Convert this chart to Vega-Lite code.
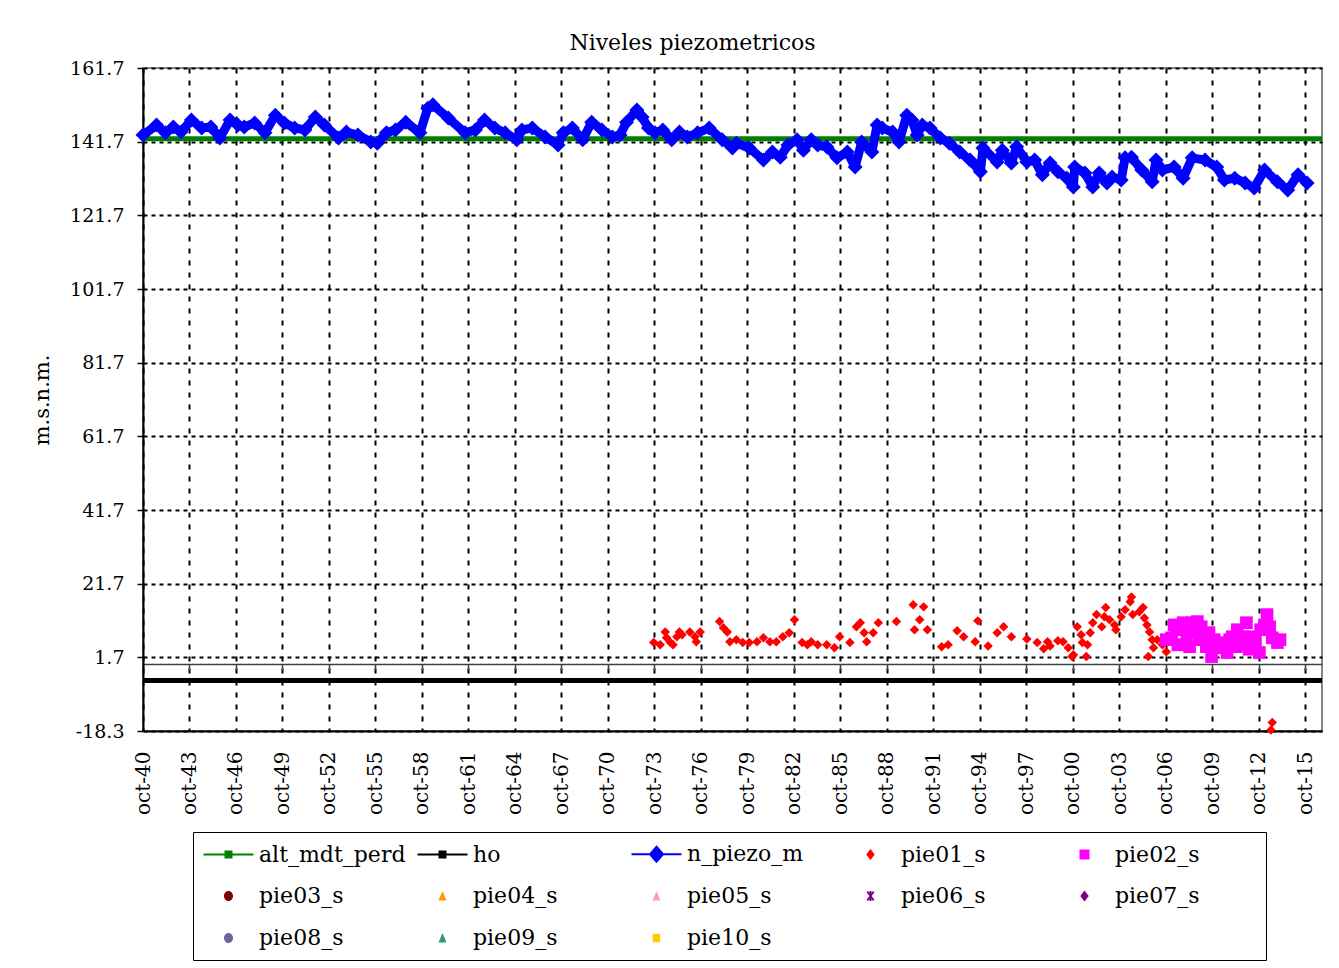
{
  "$schema": "https://vega.github.io/schema/vega-lite/v6.json",
  "width": 1179,
  "height": 663,
  "autosize": {"type": "none"},
  "padding": {"left": 143, "top": 68, "right": 17, "bottom": 237},
  "background": "white",
  "title": {"text": "Niveles piezometricos", "font": "DejaVu Serif", "fontSize": 22, "fontWeight": "normal", "color": "black", "offset": 4, "dx": -40},
  "config": {
    "view": {"stroke": "#606060", "strokeWidth": 1.5},
    "axis": {"labelFont": "DejaVu Serif", "labelFontSize": 19, "labelColor": "black", "titleFont": "DejaVu Serif", "titleFontSize": 21, "titleFontWeight": "normal", "titleColor": "black", "gridColor": "black", "gridWidth": 2, "gridOpacity": 1}
  },
  "data": {"values": [
    {"s":"alt_mdt_perd","d":"1940-10-01","v":142.5},{"s":"alt_mdt_perd","d":"2016-10-31","v":142.5},
    {"s":"ho","d":"1940-10-01","v":-4.6},{"s":"ho","d":"2016-10-31","v":-4.6},
    {"s":"n_piezo_m","d":"1940-10-01","v":143.5},{"s":"n_piezo_m","d":"1941-08-15","v":146.2},{"s":"n_piezo_m","d":"1942-03-15","v":144.1},{"s":"n_piezo_m","d":"1942-09-15","v":145.7},{"s":"n_piezo_m","d":"1943-03-15","v":144.3},{"s":"n_piezo_m","d":"1943-11-15","v":147.6},{"s":"n_piezo_m","d":"1944-07-15","v":145.4},{"s":"n_piezo_m","d":"1945-02-15","v":145.7},{"s":"n_piezo_m","d":"1945-09-15","v":142.7},{"s":"n_piezo_m","d":"1946-05-15","v":147.6},{"s":"n_piezo_m","d":"1946-11-15","v":146.2},{"s":"n_piezo_m","d":"1947-04-15","v":145.7},{"s":"n_piezo_m","d":"1947-12-15","v":146.8},{"s":"n_piezo_m","d":"1948-08-15","v":144.1},{"s":"n_piezo_m","d":"1949-04-15","v":148.9},{"s":"n_piezo_m","d":"1949-11-15","v":146.8},{"s":"n_piezo_m","d":"1950-07-15","v":145.4},{"s":"n_piezo_m","d":"1951-03-15","v":144.9},{"s":"n_piezo_m","d":"1951-11-15","v":148.4},{"s":"n_piezo_m","d":"1952-06-15","v":146.2},{"s":"n_piezo_m","d":"1953-05-15","v":142.7},{"s":"n_piezo_m","d":"1953-11-15","v":144.3},{"s":"n_piezo_m","d":"1954-08-15","v":143.5},{"s":"n_piezo_m","d":"1955-06-15","v":141.6},{"s":"n_piezo_m","d":"1955-11-15","v":141.3},{"s":"n_piezo_m","d":"1956-06-15","v":144.1},{"s":"n_piezo_m","d":"1957-01-15","v":144.9},{"s":"n_piezo_m","d":"1957-09-15","v":147.0},{"s":"n_piezo_m","d":"1958-08-15","v":144.1},{"s":"n_piezo_m","d":"1959-02-15","v":150.8},{"s":"n_piezo_m","d":"1959-06-15","v":151.7},{"s":"n_piezo_m","d":"1960-06-15","v":148.1},{"s":"n_piezo_m","d":"1961-07-15","v":144.1},{"s":"n_piezo_m","d":"1962-03-15","v":144.9},{"s":"n_piezo_m","d":"1962-10-15","v":147.6},{"s":"n_piezo_m","d":"1963-06-15","v":145.4},{"s":"n_piezo_m","d":"1964-02-15","v":144.1},{"s":"n_piezo_m","d":"1964-11-15","v":142.2},{"s":"n_piezo_m","d":"1965-03-15","v":144.9},{"s":"n_piezo_m","d":"1965-11-15","v":145.4},{"s":"n_piezo_m","d":"1966-09-15","v":143.0},{"s":"n_piezo_m","d":"1967-07-15","v":140.8},{"s":"n_piezo_m","d":"1967-11-15","v":144.1},{"s":"n_piezo_m","d":"1968-06-15","v":145.4},{"s":"n_piezo_m","d":"1969-02-15","v":142.2},{"s":"n_piezo_m","d":"1969-09-15","v":147.0},{"s":"n_piezo_m","d":"1970-05-15","v":144.9},{"s":"n_piezo_m","d":"1971-01-15","v":143.0},{"s":"n_piezo_m","d":"1971-07-15","v":143.5},{"s":"n_piezo_m","d":"1971-12-15","v":147.0},{"s":"n_piezo_m","d":"1972-08-15","v":150.3},{"s":"n_piezo_m","d":"1972-12-15","v":148.4},{"s":"n_piezo_m","d":"1973-05-15","v":145.4},{"s":"n_piezo_m","d":"1973-10-15","v":144.1},{"s":"n_piezo_m","d":"1974-04-15","v":144.9},{"s":"n_piezo_m","d":"1974-11-15","v":142.2},{"s":"n_piezo_m","d":"1975-05-15","v":144.3},{"s":"n_piezo_m","d":"1975-11-15","v":143.0},{"s":"n_piezo_m","d":"1976-07-15","v":144.1},{"s":"n_piezo_m","d":"1977-04-15","v":145.4},{"s":"n_piezo_m","d":"1978-02-15","v":142.2},{"s":"n_piezo_m","d":"1978-10-15","v":140.0},{"s":"n_piezo_m","d":"1979-01-15","v":141.3},{"s":"n_piezo_m","d":"1979-11-15","v":140.0},{"s":"n_piezo_m","d":"1980-10-15","v":136.7},{"s":"n_piezo_m","d":"1981-05-15","v":138.9},{"s":"n_piezo_m","d":"1981-11-15","v":137.5},{"s":"n_piezo_m","d":"1982-05-15","v":140.8},{"s":"n_piezo_m","d":"1982-12-15","v":142.2},{"s":"n_piezo_m","d":"1983-05-15","v":139.4},{"s":"n_piezo_m","d":"1983-11-15","v":142.2},{"s":"n_piezo_m","d":"1984-04-15","v":140.8},{"s":"n_piezo_m","d":"1984-11-15","v":140.3},{"s":"n_piezo_m","d":"1985-07-15","v":137.3},{"s":"n_piezo_m","d":"1986-03-15","v":138.9},{"s":"n_piezo_m","d":"1986-09-15","v":134.8},{"s":"n_piezo_m","d":"1987-02-15","v":141.6},{"s":"n_piezo_m","d":"1987-10-15","v":138.9},{"s":"n_piezo_m","d":"1988-02-15","v":146.2},{"s":"n_piezo_m","d":"1988-06-15","v":145.4},{"s":"n_piezo_m","d":"1989-02-15","v":144.3},{"s":"n_piezo_m","d":"1989-07-15","v":141.6},{"s":"n_piezo_m","d":"1990-01-15","v":148.9},{"s":"n_piezo_m","d":"1990-05-15","v":147.6},{"s":"n_piezo_m","d":"1990-09-15","v":143.5},{"s":"n_piezo_m","d":"1991-01-15","v":146.2},{"s":"n_piezo_m","d":"1991-07-15","v":145.4},{"s":"n_piezo_m","d":"1992-03-15","v":142.7},{"s":"n_piezo_m","d":"1992-10-15","v":141.3},{"s":"n_piezo_m","d":"1993-06-15","v":138.9},{"s":"n_piezo_m","d":"1994-02-15","v":136.7},{"s":"n_piezo_m","d":"1994-10-15","v":133.5},{"s":"n_piezo_m","d":"1994-12-15","v":140.0},{"s":"n_piezo_m","d":"1995-11-15","v":136.2},{"s":"n_piezo_m","d":"1996-03-15","v":139.4},{"s":"n_piezo_m","d":"1996-10-15","v":135.9},{"s":"n_piezo_m","d":"1997-02-15","v":140.3},{"s":"n_piezo_m","d":"1997-10-15","v":136.2},{"s":"n_piezo_m","d":"1998-04-15","v":136.7},{"s":"n_piezo_m","d":"1998-10-15","v":132.7},{"s":"n_piezo_m","d":"1999-04-15","v":135.9},{"s":"n_piezo_m","d":"1999-10-15","v":133.5},{"s":"n_piezo_m","d":"2000-05-15","v":131.8},{"s":"n_piezo_m","d":"2000-10-15","v":129.4},{"s":"n_piezo_m","d":"2000-11-15","v":134.8},{"s":"n_piezo_m","d":"2001-07-15","v":133.2},{"s":"n_piezo_m","d":"2002-01-15","v":129.4},{"s":"n_piezo_m","d":"2002-06-15","v":133.2},{"s":"n_piezo_m","d":"2002-12-15","v":130.5},{"s":"n_piezo_m","d":"2003-04-15","v":132.1},{"s":"n_piezo_m","d":"2003-11-15","v":131.3},{"s":"n_piezo_m","d":"2004-02-15","v":137.3},{"s":"n_piezo_m","d":"2004-07-15","v":137.5},{"s":"n_piezo_m","d":"2005-03-15","v":134.0},{"s":"n_piezo_m","d":"2005-11-15","v":130.8},{"s":"n_piezo_m","d":"2006-02-15","v":136.7},{"s":"n_piezo_m","d":"2006-07-15","v":134.0},{"s":"n_piezo_m","d":"2007-04-15","v":134.8},{"s":"n_piezo_m","d":"2007-11-15","v":131.8},{"s":"n_piezo_m","d":"2008-06-15","v":137.3},{"s":"n_piezo_m","d":"2009-04-15","v":136.7},{"s":"n_piezo_m","d":"2010-01-15","v":134.8},{"s":"n_piezo_m","d":"2010-07-15","v":131.3},{"s":"n_piezo_m","d":"2011-03-15","v":131.8},{"s":"n_piezo_m","d":"2011-11-15","v":130.5},{"s":"n_piezo_m","d":"2012-06-15","v":129.1},{"s":"n_piezo_m","d":"2013-02-15","v":134.0},{"s":"n_piezo_m","d":"2013-12-15","v":130.8},{"s":"n_piezo_m","d":"2014-08-15","v":128.6},{"s":"n_piezo_m","d":"2015-04-15","v":132.7},{"s":"n_piezo_m","d":"2015-11-15","v":130.5},
    {"s":"pie01_s","d":"1973-09-15","v":5.7},{"s":"pie01_s","d":"1974-02-15","v":5.1},{"s":"pie01_s","d":"1974-06-15","v":8.6},{"s":"pie01_s","d":"1974-07-15","v":7.0},{"s":"pie01_s","d":"1974-10-15","v":5.7},{"s":"pie01_s","d":"1974-12-15","v":5.1},{"s":"pie01_s","d":"1975-03-15","v":7.3},{"s":"pie01_s","d":"1975-05-15","v":8.6},{"s":"pie01_s","d":"1975-07-15","v":7.8},{"s":"pie01_s","d":"1976-01-15","v":8.6},{"s":"pie01_s","d":"1976-05-15","v":7.3},{"s":"pie01_s","d":"1976-06-15","v":5.9},{"s":"pie01_s","d":"1976-09-15","v":8.6},{"s":"pie01_s","d":"1977-12-15","v":11.4},{"s":"pie01_s","d":"1978-03-15","v":9.7},{"s":"pie01_s","d":"1978-06-15","v":8.6},{"s":"pie01_s","d":"1978-08-15","v":5.9},{"s":"pie01_s","d":"1979-01-15","v":6.5},{"s":"pie01_s","d":"1979-06-15","v":5.7},{"s":"pie01_s","d":"1979-11-15","v":5.7},{"s":"pie01_s","d":"1980-05-15","v":5.9},{"s":"pie01_s","d":"1980-10-15","v":7.0},{"s":"pie01_s","d":"1981-03-15","v":5.9},{"s":"pie01_s","d":"1981-08-15","v":5.9},{"s":"pie01_s","d":"1982-01-15","v":7.3},{"s":"pie01_s","d":"1982-06-15","v":8.4},{"s":"pie01_s","d":"1982-10-15","v":11.9},{"s":"pie01_s","d":"1983-04-15","v":5.7},{"s":"pie01_s","d":"1983-08-15","v":5.1},{"s":"pie01_s","d":"1983-11-15","v":5.9},{"s":"pie01_s","d":"1984-04-15","v":5.1},{"s":"pie01_s","d":"1984-11-15","v":5.1},{"s":"pie01_s","d":"1985-05-15","v":4.3},{"s":"pie01_s","d":"1985-09-15","v":7.3},{"s":"pie01_s","d":"1986-05-15","v":5.7},{"s":"pie01_s","d":"1986-10-15","v":10.0},{"s":"pie01_s","d":"1987-01-15","v":11.1},{"s":"pie01_s","d":"1987-04-15","v":8.4},{"s":"pie01_s","d":"1987-06-15","v":5.9},{"s":"pie01_s","d":"1987-11-15","v":8.4},{"s":"pie01_s","d":"1988-03-15","v":11.1},{"s":"pie01_s","d":"1989-05-15","v":11.4},{"s":"pie01_s","d":"1990-06-15","v":16.0},{"s":"pie01_s","d":"1990-07-15","v":9.2},{"s":"pie01_s","d":"1990-11-15","v":11.9},{"s":"pie01_s","d":"1991-02-15","v":15.4},{"s":"pie01_s","d":"1991-05-15","v":9.2},{"s":"pie01_s","d":"1992-04-15","v":4.6},{"s":"pie01_s","d":"1992-09-15","v":5.1},{"s":"pie01_s","d":"1993-04-15","v":8.9},{"s":"pie01_s","d":"1993-09-15","v":7.3},{"s":"pie01_s","d":"1994-06-15","v":5.9},{"s":"pie01_s","d":"1994-08-15","v":11.6},{"s":"pie01_s","d":"1995-04-15","v":4.8},{"s":"pie01_s","d":"1995-11-15","v":8.4},{"s":"pie01_s","d":"1996-04-15","v":10.0},{"s":"pie01_s","d":"1996-10-15","v":7.3},{"s":"pie01_s","d":"1997-10-15","v":6.7},{"s":"pie01_s","d":"1998-06-15","v":5.7},{"s":"pie01_s","d":"1998-11-15","v":4.0},{"s":"pie01_s","d":"1999-02-15","v":5.9},{"s":"pie01_s","d":"1999-04-15","v":4.8},{"s":"pie01_s","d":"1999-10-15","v":6.2},{"s":"pie01_s","d":"2000-02-15","v":5.9},{"s":"pie01_s","d":"2000-06-15","v":4.3},{"s":"pie01_s","d":"2000-09-15","v":1.9},{"s":"pie01_s","d":"2000-10-15","v":2.4},{"s":"pie01_s","d":"2001-01-15","v":10.0},{"s":"pie01_s","d":"2001-04-15","v":7.8},{"s":"pie01_s","d":"2001-05-15","v":5.7},{"s":"pie01_s","d":"2001-08-15","v":1.9},{"s":"pie01_s","d":"2001-09-15","v":5.1},{"s":"pie01_s","d":"2001-11-15","v":8.4},{"s":"pie01_s","d":"2002-01-15","v":11.1},{"s":"pie01_s","d":"2002-04-15","v":13.3},{"s":"pie01_s","d":"2002-08-15","v":10.0},{"s":"pie01_s","d":"2002-10-15","v":12.7},{"s":"pie01_s","d":"2002-11-15","v":15.2},{"s":"pie01_s","d":"2003-02-15","v":11.9},{"s":"pie01_s","d":"2003-06-15","v":10.5},{"s":"pie01_s","d":"2003-07-15","v":9.2},{"s":"pie01_s","d":"2003-11-15","v":12.7},{"s":"pie01_s","d":"2004-02-15","v":14.6},{"s":"pie01_s","d":"2004-06-15","v":16.8},{"s":"pie01_s","d":"2004-07-15","v":18.1},{"s":"pie01_s","d":"2004-08-15","v":13.3},{"s":"pie01_s","d":"2005-01-15","v":14.1},{"s":"pie01_s","d":"2005-04-15","v":15.2},{"s":"pie01_s","d":"2005-05-15","v":12.4},{"s":"pie01_s","d":"2005-07-15","v":10.5},{"s":"pie01_s","d":"2005-09-15","v":8.6},{"s":"pie01_s","d":"2005-11-15","v":6.5},{"s":"pie01_s","d":"2005-08-15","v":1.9},{"s":"pie01_s","d":"2005-12-15","v":4.3},{"s":"pie01_s","d":"2006-03-15","v":6.5},{"s":"pie01_s","d":"2006-07-15","v":5.1},{"s":"pie01_s","d":"2006-10-15","v":3.2},{"s":"pie01_s","d":"2013-08-15","v":-16.0},{"s":"pie01_s","d":"2013-07-15","v":-18.0},
    {"s":"pie02_s","d":"2006-10-15","v":6.5},{"s":"pie02_s","d":"2007-02-15","v":7.0},{"s":"pie02_s","d":"2007-04-15","v":10.5},{"s":"pie02_s","d":"2007-06-15","v":9.2},{"s":"pie02_s","d":"2007-07-15","v":5.1},{"s":"pie02_s","d":"2007-11-15","v":11.1},{"s":"pie02_s","d":"2008-01-15","v":5.1},{"s":"pie02_s","d":"2008-02-15","v":8.4},{"s":"pie02_s","d":"2008-04-15","v":4.6},{"s":"pie02_s","d":"2008-06-15","v":11.1},{"s":"pie02_s","d":"2008-09-15","v":9.2},{"s":"pie02_s","d":"2008-10-15","v":11.4},{"s":"pie02_s","d":"2008-11-15","v":6.5},{"s":"pie02_s","d":"2009-01-15","v":10.0},{"s":"pie02_s","d":"2009-04-15","v":7.3},{"s":"pie02_s","d":"2009-05-15","v":4.6},{"s":"pie02_s","d":"2009-07-15","v":8.4},{"s":"pie02_s","d":"2009-09-15","v":1.9},{"s":"pie02_s","d":"2009-10-15","v":5.1},{"s":"pie02_s","d":"2009-11-15","v":6.5},{"s":"pie02_s","d":"2010-03-15","v":5.7},{"s":"pie02_s","d":"2010-06-15","v":4.3},{"s":"pie02_s","d":"2010-09-15","v":3.0},{"s":"pie02_s","d":"2010-11-15","v":6.5},{"s":"pie02_s","d":"2011-01-15","v":7.3},{"s":"pie02_s","d":"2011-04-15","v":4.6},{"s":"pie02_s","d":"2011-05-15","v":9.2},{"s":"pie02_s","d":"2011-09-15","v":7.3},{"s":"pie02_s","d":"2011-11-15","v":5.1},{"s":"pie02_s","d":"2011-12-15","v":11.1},{"s":"pie02_s","d":"2012-02-15","v":3.9},{"s":"pie02_s","d":"2012-05-15","v":7.3},{"s":"pie02_s","d":"2012-07-15","v":6.5},{"s":"pie02_s","d":"2012-10-15","v":3.0},{"s":"pie02_s","d":"2012-11-15","v":9.2},{"s":"pie02_s","d":"2013-02-15","v":10.5},{"s":"pie02_s","d":"2013-04-15","v":13.3},{"s":"pie02_s","d":"2013-06-15","v":10.0},{"s":"pie02_s","d":"2013-08-15","v":7.0},{"s":"pie02_s","d":"2013-12-15","v":5.7},{"s":"pie02_s","d":"2014-02-15","v":6.5}
  ]},
  "resolve": {"axis": {"x": "independent"}},
  "layer": [
    {
      "transform": [{"filter": "datum.s === 'ho'"}],
      "mark": {"type": "line", "color": "black", "strokeWidth": 5, "clip": false},
      "encoding": {
        "x": {"field": "d", "type": "temporal",
          "scale": {"domain": [{"year": 1940, "month": 10, "date": 1}, {"year": 2016, "month": 10, "date": 31}]},
          "axis": {"orient": "bottom", "title": null, "values": [{"year":1940,"month":10,"date":1},{"year":1943,"month":10,"date":1},{"year":1946,"month":10,"date":1},{"year":1949,"month":10,"date":1},{"year":1952,"month":10,"date":1},{"year":1955,"month":10,"date":1},{"year":1958,"month":10,"date":1},{"year":1961,"month":10,"date":1},{"year":1964,"month":10,"date":1},{"year":1967,"month":10,"date":1},{"year":1970,"month":10,"date":1},{"year":1973,"month":10,"date":1},{"year":1976,"month":10,"date":1},{"year":1979,"month":10,"date":1},{"year":1982,"month":10,"date":1},{"year":1985,"month":10,"date":1},{"year":1988,"month":10,"date":1},{"year":1991,"month":10,"date":1},{"year":1994,"month":10,"date":1},{"year":1997,"month":10,"date":1},{"year":2000,"month":10,"date":1},{"year":2003,"month":10,"date":1},{"year":2006,"month":10,"date":1},{"year":2009,"month":10,"date":1},{"year":2012,"month":10,"date":1},{"year":2015,"month":10,"date":1}],
            "labelExpr": "'oct-' + timeFormat(datum.value, '%y')", "labelAngle": 270, "labelPadding": 20, "labelFontSize": 20, "ticks": false,
            "domain": true, "domainColor": "black", "domainWidth": 2, "grid": true, "gridDash": [5, 7], "labelFlush": false, "labelOverlap": false}},
        "y": {"field": "v", "type": "quantitative",
          "scale": {"domain": [-18.3, 161.7], "nice": false, "zero": false},
          "axis": {"title": "m.s.n.m.", "values": [-18.3, 1.7, 21.7, 41.7, 61.7, 81.7, 101.7, 121.7, 141.7, 161.7],
            "labelExpr": "replace(format(datum.value, '.1f'), '\u2212', '-')",
            "domainColor": "black", "domainWidth": 2, "tickColor": "black", "tickSize": 6, "tickWidth": 1.5, "labelPadding": 13,
            "grid": true, "gridDash": [4, 4], "titlePadding": 17}}
      }
    },
    {
      "transform": [{"filter": "datum.s === 'alt_mdt_perd'"}],
      "mark": {"type": "line", "color": "#008000", "strokeWidth": 5, "clip": false},
      "encoding": {
        "x": {"field": "d", "type": "temporal",
          "axis": {"orient": "bottom", "offset": -67, "title": null, "labels": false, "grid": false, "ticks": true, "tickSize": 6, "tickColor": "#404040", "tickWidth": 1.5, "domainColor": "#404040", "domainWidth": 1.5,
            "values": [{"year":1940,"month":10,"date":1},{"year":1943,"month":10,"date":1},{"year":1946,"month":10,"date":1},{"year":1949,"month":10,"date":1},{"year":1952,"month":10,"date":1},{"year":1955,"month":10,"date":1},{"year":1958,"month":10,"date":1},{"year":1961,"month":10,"date":1},{"year":1964,"month":10,"date":1},{"year":1967,"month":10,"date":1},{"year":1970,"month":10,"date":1},{"year":1973,"month":10,"date":1},{"year":1976,"month":10,"date":1},{"year":1979,"month":10,"date":1},{"year":1982,"month":10,"date":1},{"year":1985,"month":10,"date":1},{"year":1988,"month":10,"date":1},{"year":1991,"month":10,"date":1},{"year":1994,"month":10,"date":1},{"year":1997,"month":10,"date":1},{"year":2000,"month":10,"date":1},{"year":2003,"month":10,"date":1},{"year":2006,"month":10,"date":1},{"year":2009,"month":10,"date":1},{"year":2012,"month":10,"date":1},{"year":2015,"month":10,"date":1}]}},
        "y": {"field": "v", "type": "quantitative"}
      }
    },
    {
      "transform": [{"filter": "datum.s === 'n_piezo_m'"}],
      "mark": {"type": "line", "color": "#0000FF", "strokeWidth": 9, "strokeJoin": "round", "point": {"shape": "diamond", "size": 225, "filled": true, "color": "#0000FF", "opacity": 1}},
      "encoding": {
        "x": {"field": "d", "type": "temporal", "axis": null},
        "y": {"field": "v", "type": "quantitative"}
      }
    },
    {
      "transform": [{"filter": "datum.s === 'pie01_s'"}],
      "mark": {"type": "point", "shape": "diamond", "size": 90, "filled": true, "color": "#FF0000", "opacity": 1},
      "encoding": {
        "x": {"field": "d", "type": "temporal", "axis": null},
        "y": {"field": "v", "type": "quantitative"}
      }
    },
    {
      "transform": [{"filter": "datum.s === 'pie02_s'"}],
      "mark": {"type": "point", "shape": "square", "size": 160, "filled": true, "color": "#FF00FF", "opacity": 1},
      "encoding": {
        "x": {"field": "d", "type": "temporal", "axis": null},
        "y": {"field": "v", "type": "quantitative"}
      }
    },
    {
      "transform": [{"filter": "datum.s === 'none'"}],
      "mark": {"type": "point", "filled": true, "opacity": 1},
      "encoding": {
        "color": {"field": "s", "type": "nominal",
          "scale": {"domain": ["alt_mdt_perd","ho","n_piezo_m","pie01_s","pie02_s","pie03_s","pie04_s","pie05_s","pie06_s","pie07_s","pie08_s","pie09_s","pie10_s"],
            "range": ["#008000","#000000","#0000FF","#FF0000","#FF00FF","#800000","#FF9900","#FF99CC","#800080","#800080","#666699","#339966","#FFCC00"]},
          "legend": {"title": "x", "titleOrient": "right", "titleColor": "white", "titlePadding": 49, "titleFontSize": 12, "orient": "none", "legendX": 50, "legendY": 764, "columns": 5, "direction": "horizontal", "gridAlign": "all",
            "symbolSize": 2500, "symbolStrokeWidth": 2, "symbolOpacity": 1, "symbolOffset": 13.5, "labelFont": "DejaVu Serif", "labelFontSize": 22, "labelColor": "black",
            "labelOffset": 19.5, "labelLimit": 0, "columnPadding": 7, "rowPadding": 19, "padding": 11, "strokeColor": "black", "fillColor": "white",
            "encode": {"symbols": {"update": {
              "fill": {"scale": "color", "field": "value"},
              "stroke": {"scale": "color", "field": "value"},
              "strokeWidth": {"signal": "indexof(['alt_mdt_perd','ho','n_piezo_m','pie06_s'], datum.value) >= 0 ? 2 : 0"}
            }}}}},
        "shape": {"field": "s", "type": "nominal",
          "scale": {"domain": ["alt_mdt_perd","ho","n_piezo_m","pie01_s","pie02_s","pie03_s","pie04_s","pie05_s","pie06_s","pie07_s","pie08_s","pie09_s","pie10_s"],
            "range": [
              "M-1,0L1,0M-0.12,-0.12L0.12,-0.12L0.12,0.12L-0.12,0.12Z",
              "M-1,0L1,0M-0.12,-0.12L0.12,-0.12L0.12,0.12L-0.12,0.12Z",
              "M-1,0L1,0M0,-0.3L0.26,0L0,0.3L-0.26,0Z",
              "M0,-0.22L0.17,0L0,0.22L-0.17,0ZM-1,0L-1,0M1,0L1,0",
              "M-0.2,-0.2L0.2,-0.2L0.2,0.2L-0.2,0.2ZM-1,0L-1,0M1,0L1,0",
              "M-0.18,0A0.18,0.2 0 1,0 0.18,0A0.18,0.2 0 1,0 -0.18,0ZM-1,0L-1,0M1,0L1,0",
              "M0,-0.2L0.16,0.18L-0.16,0.18ZM-1,0L-1,0M1,0L1,0",
              "M0,-0.2L0.16,0.18L-0.16,0.18ZM-1,0L-1,0M1,0L1,0",
              "M-0.13,-0.18L0.13,0.18M0.13,-0.18L-0.13,0.18M0,-0.2L0,0.2M-1,0L-1,0M1,0L1,0",
              "M0,-0.22L0.17,0L0,0.22L-0.17,0ZM-1,0L-1,0M1,0L1,0",
              "M-0.18,0A0.18,0.2 0 1,0 0.18,0A0.18,0.2 0 1,0 -0.18,0ZM-1,0L-1,0M1,0L1,0",
              "M0,-0.2L0.16,0.18L-0.16,0.18ZM-1,0L-1,0M1,0L1,0",
              "M-0.15,-0.17L0.15,-0.17L0.15,0.17L-0.15,0.17ZM-1,0L-1,0M1,0L1,0"
            ]},
          "legend": {"title": "x", "titleOrient": "right", "titleColor": "white", "titlePadding": 49, "titleFontSize": 12, "orient": "none", "legendX": 50, "legendY": 764, "columns": 5, "direction": "horizontal", "gridAlign": "all",
            "symbolSize": 2500, "symbolStrokeWidth": 2, "symbolOpacity": 1, "symbolOffset": 13.5, "labelFont": "DejaVu Serif", "labelFontSize": 22, "labelColor": "black",
            "labelOffset": 19.5, "labelLimit": 0, "columnPadding": 7, "rowPadding": 19, "padding": 11, "strokeColor": "black", "fillColor": "white"}}
      }
    }
  ]
}
